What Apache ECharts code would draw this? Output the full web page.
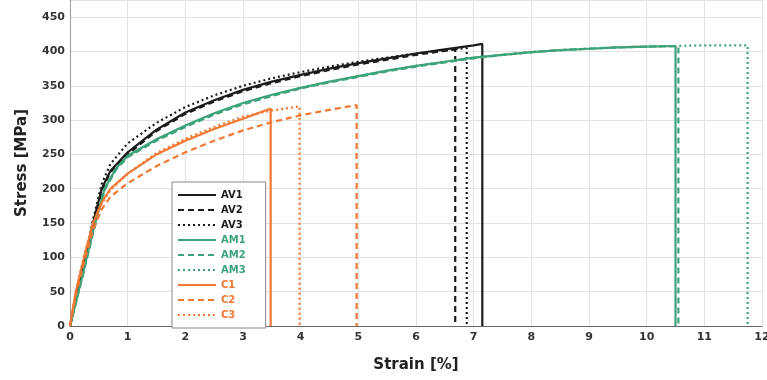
<!DOCTYPE html>
<html>
<head>
<meta charset="utf-8">
<script src="https://cdn.jsdelivr.net/npm/echarts@6/dist/echarts.min.js"></script>
<style>html,body{margin:0;padding:0;background:#fff}#c{width:767px;height:380px}</style>
</head>
<body>
<div id="c"></div>
<script>
// Strain [%] / Stress [MPa] pairs
const AV1 = [[0,0],[0.2,75],[0.4,150],[0.55,200],[0.7,226],[1,253],[1.5,286],[2,311],[2.5,329],[3,344],[3.5,356],[4,366],[4.5,375],[5,383],[5.5,390],[6,397],[6.5,403],[7,409],[7.15,411],[7.15,0]];
const AV2 = [[0,0],[0.2,72],[0.4,145],[0.55,198],[0.7,224],[1,250],[1.5,284],[2,309],[2.5,327],[3,342],[3.5,354],[4,364],[4.5,373],[5,381],[5.5,388],[6,395],[6.5,401],[6.68,403],[6.68,0]];
const AV3 = [[0,0],[0.2,76],[0.4,155],[0.55,207],[0.7,236],[1,266],[1.5,296],[2,319],[2.5,336],[3,350],[3.5,361],[4,370],[4.5,378],[5,385],[5.5,391],[6,397],[6.5,402],[6.88,405],[6.88,0]];
const AM1 = [[0,0],[0.2,68],[0.4,138],[0.6,200],[0.8,230],[1,248],[1.5,272],[2,292],[2.5,310],[3,325],[3.5,337],[4,347],[4.5,356],[5,364],[5.5,372],[6,379],[6.5,385],[7,391],[7.5,395],[8,399],[8.5,402],[9,404],[9.5,406],[10,407],[10.5,408],[10.5,0]];
const AM2 = [[0,0],[0.2,66],[0.4,135],[0.6,198],[0.8,228],[1,246],[1.5,270],[2,290],[2.5,308],[3,323],[3.5,335],[4,346],[4.5,355],[5,363],[5.5,371],[6,378],[6.5,384],[7,390],[7.5,395],[8,399],[8.5,402],[9,404],[9.5,406],[10,407],[10.55,408],[10.55,0]];
const AM3 = [[0,0],[0.2,67],[0.4,137],[0.6,199],[0.8,229],[1,247],[1.5,271],[2,291],[2.5,309],[3,324],[3.5,336],[4,347],[4.5,356],[5,364],[5.5,372],[6,379],[6.5,385],[7,391],[7.5,395],[8,399],[8.5,402],[9,404],[9.5,406],[10,407],[10.5,408],[11,409],[11.75,409],[11.75,0]];
const C1 = [[0,0],[0.1,50],[0.25,102],[0.4,150],[0.55,180],[0.7,200],[1,222],[1.5,250],[2,270],[2.5,287],[3,302],[3.48,317],[3.48,0]];
const C2 = [[0,0],[0.1,45],[0.25,95],[0.4,140],[0.55,170],[0.7,188],[1,208],[1.5,233],[2,253],[2.5,270],[3,285],[3.5,297],[4,307],[4.5,315],[4.97,322],[4.97,0]];
const C3 = [[0,0],[0.1,50],[0.25,105],[0.4,150],[0.55,178],[0.7,198],[1,222],[1.5,252],[2,273],[2.5,290],[3,305],[3.5,314],[3.98,320],[3.98,0]];

const names = ['AV1','AV2','AV3','AM1','AM2','AM3','C1','C2','C3'];
const datasets = [AV1,AV2,AV3,AM1,AM2,AM3,C1,C2,C3];
const BLACK = '#1c1c1c', GREEN = '#3ea37a', ORANGE = '#f27834';
const colors = [BLACK,BLACK,BLACK,GREEN,GREEN,GREEN,ORANGE,ORANGE,ORANGE];
const styles = ['solid',[6,4],[2,3],'solid',[6,4],[2,3],'solid',[6,4],[2,3]];

const series = names.map((n,i)=>({
  name:n, type:'line', data:datasets[i], showSymbol:false, symbol:'none',
  smooth:false, animation:false,
  lineStyle:{color:colors[i], width:2.2, type:styles[i]},
  itemStyle:{color:colors[i]}
}));

const chart = echarts.init(document.getElementById('c'));
chart.setOption({
  animation:false,
  backgroundColor:'#fff',
  grid:{left:70, right:5, top:0, bottom:54, containLabel:false, outerBoundsMode:'none'},
  legend:{
    orient:'vertical', left:172, top:182, itemWidth:38, itemHeight:10, itemGap:5,
    borderColor:'#888', borderWidth:1, padding:[8,20,8,5], backgroundColor:'#fff',
    itemStyle:{opacity:0},
    textStyle:{fontFamily:'DejaVu Sans', fontSize:10, fontWeight:'bold'},
    data:names.map((n,i)=>({name:n, textStyle:{color:colors[i]}}))
  },
  xAxis:{
    type:'value', min:0, max:12, interval:1,
    name:'Strain [%]', nameLocation:'middle', nameGap:32,
    nameTextStyle:{fontFamily:'DejaVu Sans', fontSize:15, fontWeight:'bold', color:'#222'},
    axisLine:{lineStyle:{color:'#666', width:1}},
    axisTick:{show:false},
    axisLabel:{fontFamily:'DejaVu Sans', fontSize:11, fontWeight:'bold', color:'#333', margin:6},
    splitLine:{show:true, lineStyle:{color:'#e2e2e2', width:1}}
  },
  yAxis:{
    type:'value', min:0, max:475, interval:50,
    name:'Stress [MPa]', nameLocation:'middle', nameGap:40,
    nameTextStyle:{fontFamily:'DejaVu Sans', fontSize:15, fontWeight:'bold', color:'#222'},
    axisLine:{show:true, lineStyle:{color:'#999', width:1}},
    axisTick:{show:false},
    axisLabel:{fontFamily:'DejaVu Sans', fontSize:11, fontWeight:'bold', color:'#333', margin:5, showMaxLabel:false},
    splitLine:{show:true, lineStyle:{color:'#e2e2e2', width:1}}
  },
  series:series
});
</script>
</body>
</html>
